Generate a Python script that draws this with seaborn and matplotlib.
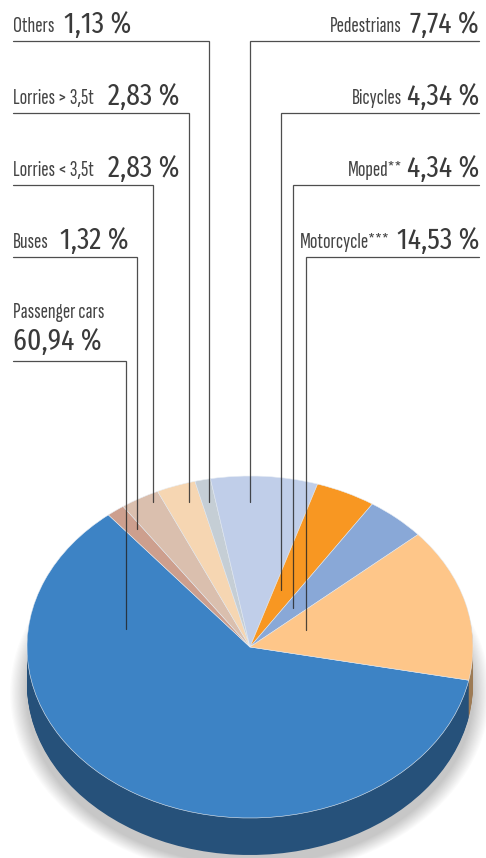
import matplotlib
matplotlib.use('Agg')
import matplotlib.pyplot as plt
import seaborn as sns

# -----------------------------
# Data
# -----------------------------
categories = ['Passenger cars', 'Buses', 'Lorries < 3,5t', 'Lorries > 3,5t', 'Others',
              'Pedestrians', 'Bicycles', 'Moped**', 'Motorcycle***']
shares = [60.94, 1.32, 2.83, 2.83, 1.13, 7.74, 4.34, 4.34, 14.53]
value_labels = ['60,94 %', '1,32 %', '2,83 %', '2,83 %', '1,13 %',
                '7,74 %', '4,34 %', '4,34 %', '14,53 %']
colors = ['#3d83c5', '#cd9f8e', '#dabfae', '#f6d6b2', '#c5ced5',
          '#c0cee9', '#f89722', '#89a8d7', '#fec689']

sns.set_theme(style='white')
font_small = ['Sofia Sans Extra Condensed', 'Roboto Condensed', 'Open Sans', 'DejaVu Sans']
font_big = ['Fira Sans Extra Condensed', 'Roboto Condensed', 'Open Sans', 'DejaVu Sans']

palette = sns.color_palette(colors)
side = [tuple(c * 0.62 for c in col) for col in palette]

fig = plt.figure(figsize=(4.86, 8.58), dpi=100)
W, H = 486, 858
cx, cy, rx, ry = 250, 647, 223, 171
depth = 37

# pie axes, one data unit is rx wide and ry high
ax = fig.add_axes([(cx - 1.2 * rx) / W, (H - cy - 1.5 * ry) / H, 2.4 * rx / W, 2.6 * ry / H])
start = -11.2

# soft shadow under the disc
for k in range(14, 0, -1):
    ax.pie([sum(shares)], colors=['#000000'], radius=1 + k * 1.2 / rx,
           center=(0, -(depth + 9) / ry), wedgeprops={'alpha': 0.014, 'linewidth': 0})
# side wall, one layer per pixel
for k in range(depth, 0, -1):
    ax.pie(shares, colors=side, startangle=start, counterclock=False,
           center=(0, -k / ry), wedgeprops={'linewidth': 0})
ax.pie(shares, colors=palette, startangle=start, counterclock=False,
       wedgeprops={'linewidth': 0.4, 'edgecolor': '#e8eef5'})
ax.set_aspect('auto')
ax.set_xlim(-1.2, 1.2)
ax.set_ylim(-1.5, 1.1)

# overlay in pixel coordinates for the leaders and labels
ov = fig.add_axes([0, 0, 1, 1], facecolor='none')
ov.set_xlim(0, W)
ov.set_ylim(H, 0)
ov.axis('off')

leaders = {
    'Others': (13, 209, 41, 502), 'Lorries > 3,5t': (13, 189, 113, 502),
    'Lorries < 3,5t': (13, 153, 185, 502), 'Buses': (13, 137, 257, 529),
    'Passenger cars': (13, 126, 361, 629), 'Pedestrians': (479, 250, 41, 502),
    'Bicycles': (479, 281, 113, 590), 'Moped**': (479, 293, 185, 608),
    'Motorcycle***': (479, 305.5, 257, 630),
}
for name, (x0, x1, y0, y1) in leaders.items():
    ov.plot([x0, x1, x1], [y0, y0, y1], color='#222222', lw=0.9, alpha=0.8, solid_joinstyle='miter')

small = dict(family=font_small, fontsize=16, color='#444444', va='baseline')
big = dict(family=font_big, weight='normal', fontsize=21.5, color='#3a3a3a', va='baseline')
left_rows = {'Others': (32, 64), 'Lorries > 3,5t': (104, 108), 'Lorries < 3,5t': (176, 108), 'Buses': (248, 60)}
right_rows = {'Pedestrians': (32, 402), 'Bicycles': (104, 402), 'Moped**': (176, 402), 'Motorcycle***': (248, 390)}
for name, (y, xl) in left_rows.items():
    ov.text(13, y, name, ha='left', **small)
    ov.text(xl, y + 1, value_labels[categories.index(name)], ha='left', **big)
for name, (y, xl) in right_rows.items():
    ov.text(xl, y, name, ha='right', **small)
    ov.text(479, y + 1, value_labels[categories.index(name)], ha='right', **big)
ov.text(13, 318, 'Passenger cars', ha='left', **small)
ov.text(13, 350, value_labels[0], ha='left', **big)

fig.savefig('out.png', dpi=100)
